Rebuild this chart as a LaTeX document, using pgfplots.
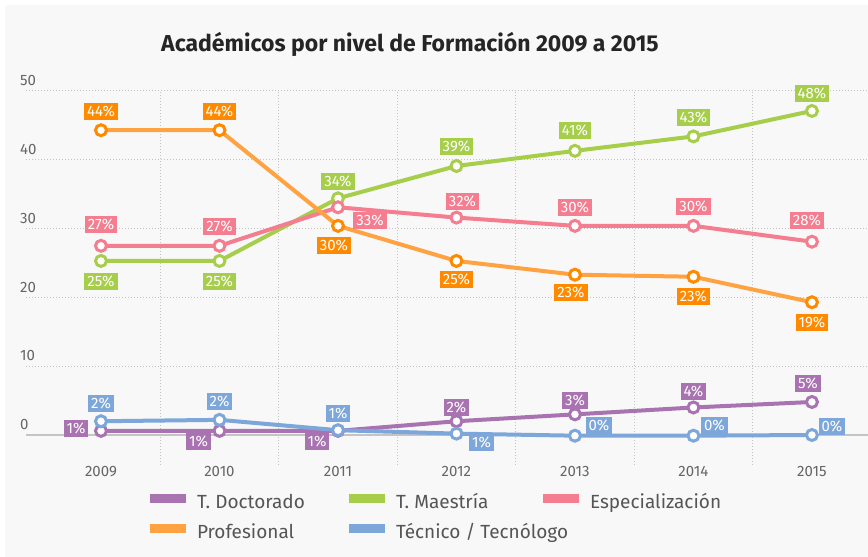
\documentclass[border=0pt]{standalone}
\usepackage{pgfplots}
\pgfplotsset{compat=1.18}
\usepackage{pgfplotstable}
\usepackage{fontspec}
\setmainfont{Fira Sans}
\definecolor{bgc}{HTML}{F8F8F8}
\definecolor{cOrL}{HTML}{FFA242}
\definecolor{cOr}{HTML}{FF8A00}
\definecolor{cGr}{HTML}{A6CE4A}
\definecolor{cPk}{HTML}{F47D8F}
\definecolor{cPu}{HTML}{A873B0}
\definecolor{cBl}{HTML}{7DA7DA}
\definecolor{tickc}{HTML}{666666}
\definecolor{gridc}{HTML}{C4C4C4}
\definecolor{titc}{HTML}{252525}
\definecolor{legc}{HTML}{555555}

\pgfplotstableread{
x y lab dx dy
2009 0.6 1 -25 2
2010 0.6 1 -21 -11
2011 0.6 1 -21 -11
2012 2.0 2 0 14
2013 3.0 3 0 14
2014 4.0 4 0 16
2015 4.8 5 -4 18
}\dDoc
\pgfplotstableread{
x y lab dx dy
2009 25.3 25 0 -21
2010 25.3 25 0 -21
2011 34.4 34 0 17
2012 39.1 39 0 19
2013 41.3 41 0 20
2014 43.4 43 0 19
2015 47.1 48 0 17
}\dMae
\pgfplotstableread{
x y lab dx dy
2009 27.5 27 0 21
2010 27.5 27 0 19
2011 33.1 33 32 -13
2012 31.6 32 6 16
2013 30.4 30 0 18
2014 30.4 30 0 19
2015 28.1 28 -5 21
}\dEsp
\pgfplotstableread{
x y lab dx dy
2009 44.3 44 0 19
2010 44.3 44 0 19
2011 30.4 30 -4 -20
2012 25.3 25 0 -19
2013 23.3 23 -4 -18
2014 23.0 23 0 -20
2015 19.3 19 0 -20
}\dPro
\pgfplotstableread{
x y lab dx dy
2009 2.0 2 0 18
2010 2.2 2 0 18
2011 0.7 1 0 17
2012 0.2 1 25 -9
2013 -0.1 0 24 10
2014 -0.1 0 21 10
2015 0.0 0 20 9
}\dTec

\pgfplotsset{
  serie/.style 2 args={
    color=#1, line width=4pt, mark=*, mark size=5.5pt,
    mark options={solid, fill=white, draw=#2, line width=3pt},
    point meta=explicit symbolic,
    visualization depends on={\thisrow{dx}\as\ldx},
    visualization depends on={\thisrow{dy}\as\ldy},
    nodes near coords={\pgfplotspointmeta\%},
    every node near coord/.append style={anchor=center, fill=#2, text=white,
      font=\fontsize{15}{15}\selectfont, inner xsep=3pt, inner ysep=2.5pt,
      text height=11pt, text depth=1pt,
      xshift=\ldx pt, yshift=\ldy pt},
  },
}

\begin{document}
\begin{tikzpicture}
\useasboundingbox (0,0) rectangle (868pt,557pt);
\fill[white] (0,0) rectangle (868pt,557pt);
\fill[bgc] (5pt,0) rectangle (868pt,552pt);
\node[font=\bfseries\fontsize{23}{23}\selectfont, text=titc, anchor=base] at (410pt,505pt) {Académicos por nivel de Formación 2009 a 2015};
\begin{axis}[
  at={(26pt,92pt)}, anchor=south west,
  scale only axis, width=842pt, height=374pt,
  xmin=2008.367, xmax=2015.473, ymin=-4.36, ymax=50,
  clip=false,
  axis line style={draw=none},
  xtick={2009,...,2015},
  minor xtick={2009.5,2010.5,2011.5,2012.5,2013.5,2014.5},
  xminorgrids=true, xmajorgrids=false,
  ytick={10,20,...,50}, ymajorgrids=true,
  extra y ticks={0},
  extra y tick style={major grid style={solid, draw=gridc, line width=1.2pt, dash pattern=}},
  major tick length=0pt, minor tick length=0pt,
  grid style={draw=gridc, line width=1pt, dash pattern=on 1pt off 2pt},
  /pgf/number format/1000 sep={},
  /pgf/number format/assume math mode=true,
  tick label style={font=\fontsize{15}{15}\selectfont, text=tickc},
  yticklabel style={anchor=south west, inner sep=0pt, xshift=-6pt, yshift=5pt},
  xticklabel style={anchor=north, inner sep=0pt, yshift=-1pt},
  legend columns=3,
  legend cell align=left,
  legend style={at={(axis description cs:0.1473,-0.0749)}, anchor=north west,
    draw=none, fill=none, inner sep=0pt, outer sep=0pt,
    font=\fontsize{19}{19}\selectfont, text=legc,
    nodes={text height=13pt, text depth=4pt},
    row sep=9pt, column sep=0pt,
    /tikz/every odd column/.append style={column sep=9pt}},
  legend image code/.code={\path[#1, draw=none, fill] (0pt,0.3pt) rectangle (36pt,9.3pt);},
]
\addplot[serie={cPu}{cPu}] table[x=x, y=y, meta=lab] {\dDoc};
\addlegendentry{\makebox[150pt][l]{T. Doctorado}}
\addplot[serie={cGr}{cGr}] table[x=x, y=y, meta=lab] {\dMae};
\addlegendentry{\makebox[145pt][l]{T. Maestría}}
\addplot[serie={cPk}{cPk}] table[x=x, y=y, meta=lab] {\dEsp};
\addlegendentry{Especialización}
\addplot[serie={cOrL}{cOr}] table[x=x, y=y, meta=lab] {\dPro};
\addlegendentry{\makebox[150pt][l]{Profesional}}
\addplot[serie={cBl}{cBl}] table[x=x, y=y, meta=lab] {\dTec};
\addlegendentry{\makebox[145pt][l]{Técnico / Tecnólogo}}
\end{axis}
\end{tikzpicture}
\end{document}
